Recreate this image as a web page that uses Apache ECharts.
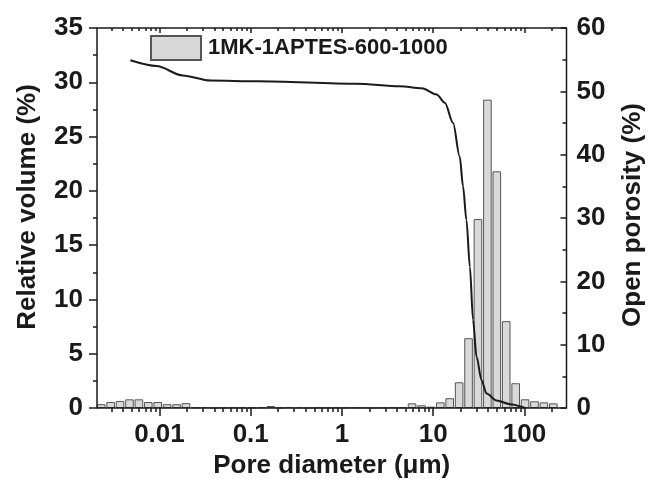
<!DOCTYPE html>
<html><head><meta charset="utf-8">
<script src="https://cdn.jsdelivr.net/npm/echarts@6/dist/echarts.min.js"></script>
<style>html,body{margin:0;padding:0;background:#fff}#c{width:651px;height:479px}</style>
</head><body><div id="c"></div>
<script>
// Pore diameter bin centres (µm) and relative volume (%)
const poreDiameters = [0.0023, 0.00292, 0.0037, 0.0047, 0.00596, 0.00755, 0.00958, 0.01214, 0.01541, 0.01954,
  0.02477, 0.03141, 0.03984, 0.0506, 0.0641, 0.0813, 0.1031, 0.1307, 0.1659, 0.2104,
  0.2667, 0.3382, 0.429, 0.5441, 0.69, 0.875, 1.11, 1.407, 1.785, 2.264,
  2.871, 3.64, 4.62, 5.86, 7.43, 9.42, 11.95, 15.15, 19.22, 24.37,
  30.9, 39.2, 49.7, 63.0, 80.0, 101.4, 128.6, 163.0, 207.0];
const relativeVolume = [0.35, 0.55, 0.65, 0.8, 0.8, 0.55, 0.55, 0.35, 0.35, 0.45,
  0.05, 0.08, 0.02, 0.03, 0.06, 0.06, 0.03, 0.05, 0.18, 0.03,
  0.08, 0.05, 0.02, 0.05, 0.05, 0.05, 0.03, 0.05, 0.04, 0.02,
  0.04, 0.06, 0.05, 0.43, 0.25, 0.12, 0.52, 0.9, 2.37, 6.43,
  17.4, 28.4, 21.8, 8.0, 2.28, 0.8, 0.62, 0.52, 0.43];
// Cumulative open porosity curve (right axis)
const porosityDiameters = [0.0048, 0.0093, 0.018, 0.036, 0.12, 1.44, 4.3, 7.5, 10.9, 13.4, 16.5, 19.5, 21.2, 23.1, 25.2, 27.3, 29.8, 33.8, 38.3, 49.4, 69, 100];
const openPorosity = [54.9, 54.0, 52.5, 51.7, 51.6, 51.2, 50.8, 50.5, 49.5, 48.2, 45.0, 39.7, 35.0, 29.7, 22.3, 13.9, 8.1, 4.4, 2.3, 1.2, 0.6, 0.05];
const xTickValues = [0.01, 0.1, 1, 10, 100];
const xTickLabels = ['0.01', '0.1', '1', '10', '100'];
const seriesName = '1MK-1APTES-600-1000';

const FONT = "'Liberation Sans', Arial, sans-serif";
const INK = '#1a1a1a';
const xMin = -2.684, xMax = 2.46;
const majorPos = xTickValues.map(v => Math.log10(v));
const minorPos = [];
for (let e = -3; e <= 2; e++) for (let k = 2; k <= 9; k++) {
  const p = Math.log10(k * Math.pow(10, e));
  if (p > xMin && p < xMax) minorPos.push(p);
}
const lbl = () => ({fontFamily: FONT, fontWeight: 'bold', fontSize: 26, color: INK});
const noLine = () => ({show: false, onZero: false});
const titleStyle = () => ({fontFamily: FONT, fontWeight: 'bold', fontSize: 26, color: INK});
const tickStyle = () => ({color: INK, width: 1.5});

function xAx(pos, ticks, len, inside, labels) {
  return {
    type: 'value', position: pos, min: xMin, max: xMax, gridIndex: 0,
    axisLine: noLine(),
    splitLine: {show: false},
    axisTick: {show: true, customValues: ticks, length: len, inside: inside, lineStyle: tickStyle()},
    axisLabel: labels ? Object.assign({show: true, customValues: majorPos, margin: 14,
      formatter: v => { const i = majorPos.findIndex(p => Math.abs(p - v) < 1e-6); return i >= 0 ? xTickLabels[i] : ''; }}, lbl()) : {show: false},
    name: labels ? 'Pore diameter (\u03bcm)' : '',
    nameLocation: 'middle', nameGap: 41,
    nameTextStyle: titleStyle()
  };
}

const chart = echarts.init(document.getElementById('c'), null, {renderer: 'canvas'});
chart.setOption({
  animation: false,
  backgroundColor: '#fff',
  grid: {left: 97, top: 28, width: 469.5, height: 380, containLabel: false, outerBoundsMode: 'none'},
  legend: {
    data: [seriesName], left: 150, top: 35, padding: 0, icon: 'rect', itemWidth: 50, itemHeight: 24, itemGap: 8,
    textStyle: {fontFamily: FONT, fontWeight: 'bold', fontSize: 22, color: INK, padding: [0, 0, 0, 2]}
  },
  xAxis: [
    xAx('bottom', majorPos, 8, false, true),
    xAx('bottom', minorPos, 4, false, false),
    xAx('top', majorPos, 5, true, false),
    xAx('top', minorPos, 3, true, false)
  ],
  yAxis: [
    {type: 'value', position: 'left', min: 0, max: 35, interval: 5,
     axisLine: noLine(), splitLine: {show: false},
     axisTick: {show: true, length: 8, lineStyle: tickStyle()},
     minorTick: {show: true, splitNumber: 2, length: 4, lineStyle: tickStyle()},
     axisLabel: Object.assign({margin: 14}, lbl()),
     name: 'Relative volume (%)', nameLocation: 'middle', nameRotate: 90, nameGap: 56,
     nameTextStyle: Object.assign(titleStyle(), {padding: [0, 0, 0, 22]})},
    {type: 'value', position: 'right', min: 0, max: 60, interval: 10,
     axisLine: noLine(), splitLine: {show: false},
     axisTick: {show: true, inside: true, length: 6, lineStyle: tickStyle()},
     minorTick: {show: true, splitNumber: 2, length: 4, lineStyle: tickStyle()},
     axisLabel: Object.assign({margin: 10}, lbl()),
     name: 'Open porosity (%)', nameLocation: 'middle', nameRotate: 90, nameGap: 53,
     nameTextStyle: Object.assign(titleStyle(), {padding: [0, 0, 0, 6]})}
  ],
  series: [
    {name: seriesName, type: 'bar', xAxisIndex: 0, yAxisIndex: 0, barWidth: 8.6,
     itemStyle: {color: '#d9d9d9', borderColor: '#555', borderWidth: 1},
     data: poreDiameters.map((d, i) => [Math.log10(d), relativeVolume[i]]), z: 2},
    {name: 'Open porosity', type: 'line', xAxisIndex: 0, yAxisIndex: 1, symbol: 'none',
     smooth: 0.3, smoothMonotone: 'x',
     lineStyle: {color: INK, width: 2},
     data: porosityDiameters.map((d, i) => [Math.log10(d), openPorosity[i]]), z: 3}
  ]
});
// Plot frame from the axes' own pixel mapping
const x0 = chart.convertToPixel({xAxisIndex: 0}, xMin);
const x1 = chart.convertToPixel({xAxisIndex: 0}, xMax);
const y0 = chart.convertToPixel({yAxisIndex: 0}, 0);
const y1 = chart.convertToPixel({yAxisIndex: 0}, 35);
chart.setOption({
  graphic: [{type: 'rect', z: 10, silent: true,
    shape: {x: x0, y: y1, width: x1 - x0, height: y0 - y1},
    style: {fill: null, stroke: INK, lineWidth: 1.5}}]
});
</script></body></html>
